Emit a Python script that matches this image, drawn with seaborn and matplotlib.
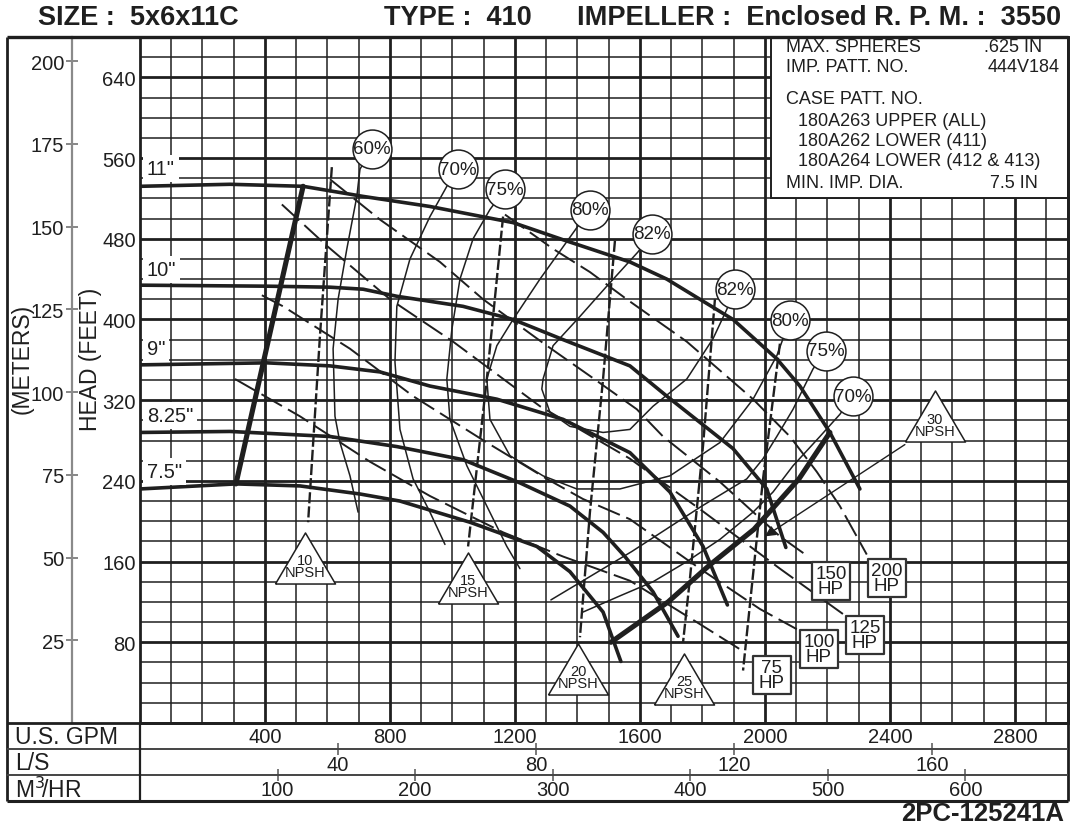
import numpy as np
import matplotlib
matplotlib.use('Agg')
import matplotlib.pyplot as plt
import matplotlib.transforms as mtransforms
from matplotlib.lines import Line2D
from matplotlib.patches import Rectangle
import seaborn as sns

# ---- values: flow in US GPM, head in feet ----
dia_labels = ['11"', '10"', '9"', '8.25"', '7.5"']
dia_label_head = [550, 450, 371, 305, 249]

h11_q = [0, 288, 522, 714, 928, 1194, 1354, 1568, 1686, 1898, 2038, 2112, 2208, 2304]
h11_h = [532, 534, 532, 522, 512, 496, 479, 457, 440, 400, 361, 334, 288, 232]
h10_q = [0, 406, 608, 714, 822, 1034, 1194, 1354, 1568, 1686, 1898, 2006, 2067]
h10_h = [434, 433, 432, 430, 423, 413, 400, 380, 354, 324, 272, 232, 174]
h9_q = [0, 406, 608, 768, 928, 1142, 1354, 1568, 1696, 1802, 1880]
h9_h = [355, 357, 354, 348, 334, 321, 301, 268, 229, 175, 117]
h825_q = [0, 288, 608, 822, 1034, 1216, 1376, 1482, 1552, 1642, 1722]
h825_h = [288, 289, 284, 274, 261, 238, 215, 189, 165, 130, 86]
h75_q = [0, 307, 512, 704, 832, 1056, 1270, 1376, 1482, 1539]
h75_h = [232, 237, 235, 227, 220, 199, 175, 150, 110, 61]

min_flow_q = [307, 522]
min_flow_h = [237, 532]
max_flow_q = [1507, 1690, 1821, 1965, 2109, 2208]
max_flow_h = [80, 120, 156, 192, 242, 288]

# efficiency lines, each starting at its label circle
e60_q = [742, 704, 694, 662, 634, 618, 624, 640, 672, 698]
e60_h = [569, 549, 522, 470, 420, 371, 304, 278, 245, 209]
e70_q = [1018, 982, 928, 864, 822, 816, 832, 874, 928, 976]
e70_h = [549, 532, 502, 460, 413, 358, 291, 242, 209, 177]
e75_q = [1168, 1120, 1066, 1024, 998, 982, 992, 1046, 1110, 1174, 1216]
e75_h = [529, 509, 480, 440, 390, 341, 301, 255, 215, 175, 153]
e80_q = [1440, 1398, 1280, 1194, 1142, 1110, 1120, 1184, 1290, 1398, 1536, 1696, 1856, 1962, 2038, 2058, 2080]
e80_h = [509, 491, 440, 400, 374, 341, 301, 265, 245, 232, 232, 245, 278, 321, 364, 381, 399]
e82_q = [1638, 1594, 1494, 1408, 1322, 1290, 1286, 1312, 1376, 1482, 1568, 1642, 1750, 1834, 1878, 1904]
e82_h = [485, 467, 433, 403, 374, 341, 331, 308, 294, 288, 291, 314, 341, 381, 410, 430]
e75r_q = [2195, 2154, 2090, 2038, 1994, 1942, 1798, 1574, 1315]
e75r_h = [369, 351, 311, 284, 262, 242, 215, 170, 122]
e70r_q = [2282, 2240, 2176, 2090, 2026, 1962, 1856, 1750, 1642, 1536, 1418]
e70r_h = [324, 306, 284, 255, 229, 209, 182, 160, 140, 126, 110]

eff_txt = ['60%', '70%', '75%', '80%', '82%', '82%', '80%', '75%', '70%']
eff_q = [742, 1018, 1168, 1440, 1638, 1904, 2080, 2195, 2282]
eff_h = [569, 549, 529, 509, 485, 430, 399, 369, 324]

# NPSH (ft) lines
n10_q = [614, 576, 538]
n10_h = [551, 384, 199]
n15_q = [1162, 1110, 1050]
n15_h = [502, 341, 175]
n20_q = [1520, 1482, 1440, 1408]
n20_h = [478, 341, 209, 85]
n25_q = [1840, 1802, 1760, 1738]
n25_h = [420, 275, 143, 80]
n30_q = [2048, 1994, 1930]
n30_h = [376, 242, 52]
npsh_txt = ['10', '15', '20', '25', '30']
npsh_q = [528, 1050, 1402, 1741, 2544]
npsh_h = [164, 144, 54, 44, 304]
npsh30_lead_q = [2448, 2000]
npsh30_lead_h = [276, 185]

# horsepower lines
hp200_q = [1168, 1322, 1440, 1558, 1750, 1962, 2080, 2166, 2240, 2326]
hp200_h = [504, 470, 447, 420, 378, 321, 284, 249, 215, 167]
hp150_q = [608, 768, 960, 1098, 1302, 1440, 1590, 1674, 1856, 2048, 2134]
hp150_h = [539, 499, 457, 420, 374, 344, 311, 284, 239, 185, 166]
hp125_q = [454, 598, 800, 1002, 1280, 1568, 1792, 2048, 2250]
hp125_h = [514, 473, 420, 378, 314, 262, 212, 153, 108]
hp100_q = [390, 458, 672, 874, 992, 1110, 1302, 1418, 1568, 1792, 1984, 2102]
hp100_h = [424, 413, 371, 324, 301, 278, 242, 222, 202, 153, 113, 93]
hp75_q = [304, 512, 736, 928, 1162, 1354, 1568, 1792, 1936]
hp75_h = [341, 304, 259, 225, 189, 165, 141, 98, 70]
hp_txt = ['75', '100', '125', '150', '200']
hp_q = [2022, 2173, 2320, 2211, 2390]
hp_h = [48, 73, 87, 141, 144]

feet_ticks = [80, 160, 240, 320, 400, 480, 560, 640]
meter_ticks = [25, 50, 75, 100, 125, 150, 175, 200]
gpm_ticks = [400, 800, 1200, 1600, 2000, 2400, 2800]
ls_ticks = [40, 80, 120, 160]
m3h_ticks = [100, 200, 300, 400, 500, 600]

FT_PER_M = 3.28084
GPM_PER_LS = 15.8503
GPM_PER_M3H = 4.40287
QMAX, HMAX = 2970, 680

INK = '#1f1f1f'
W, H = 1072, 828

sns.set_theme(style='white')
plt.rcParams['font.family'] = ['Liberation Sans', 'DejaVu Sans']
plt.rcParams['lines.scale_dashes'] = False
plt.rcParams['text.color'] = INK


def fx(px):
    return px / W


def fy(py):
    return 1 - py / H


fig = plt.figure(figsize=(W / 100, H / 100), dpi=100)
ax = fig.add_axes([fx(140), fy(724), fx(1068) - fx(140), fy(38) - fy(724)])
ax.set_xlim(0, QMAX)
ax.set_ylim(0, HMAX)

# grid
ax.set_xticks(gpm_ticks)
ax.set_xticks(np.arange(100, QMAX, 100), minor=True)
ax.set_yticks(feet_ticks)
ax.set_yticks(np.arange(20, HMAX, 20), minor=True)
ax.set_yticklabels([str(t) for t in feet_ticks])
ax.tick_params(axis='x', which='both', length=0, labelbottom=False)
ax.tick_params(axis='y', which='both', length=0, labelsize=14.5, pad=3, labelcolor=INK)
ax.grid(True, which='major', color=INK, lw=2.0)
ax.grid(True, which='minor', color=INK, lw=1.1)
ax.set_axisbelow(True)
for s in ax.spines.values():
    s.set_color(INK)
    s.set_linewidth(2)

# spec box (hides grid in the top right corner)
ax.add_patch(Rectangle((2020, 520), QMAX - 2020, HMAX - 520, fc='white', ec=INK, lw=1.4, zorder=1.5))

# meters axis
sec = ax.secondary_yaxis((72 - 140) / 928, functions=(lambda f: f / FT_PER_M, lambda m: m * FT_PER_M))
sec.set_yticks(meter_ticks)
sec.tick_params(direction='inout', length=9, width=1.1, color='#666666', labelsize=14.5, pad=1, labelcolor=INK)
for s in sec.spines.values():
    s.set_color('#8a8a8a')
    s.set_linewidth(1.6)


def curve(q, h, **kw):
    sns.lineplot(x=q, y=h, sort=False, estimator=None, ax=ax, color=INK, **kw)


# head curves
for q, h in [(h11_q, h11_h), (h10_q, h10_h), (h9_q, h9_h), (h825_q, h825_h), (h75_q, h75_h)]:
    curve(q, h, linewidth=2.6, zorder=4)
curve(min_flow_q, min_flow_h, linewidth=3.7, zorder=4)
curve(max_flow_q, max_flow_h, linewidth=3.7, zorder=4)

# efficiency
for q, h in [(e60_q, e60_h), (e70_q, e70_h), (e75_q, e75_h), (e80_q, e80_h),
             (e82_q, e82_h), (e75r_q, e75r_h), (e70r_q, e70r_h)]:
    curve(q, h, linewidth=1.1, zorder=3)

# NPSH
for q, h in [(n10_q, n10_h), (n15_q, n15_h), (n20_q, n20_h), (n25_q, n25_h), (n30_q, n30_h)]:
    curve(q, h, linewidth=1.7, linestyle=(0, (8, 2.2)), zorder=3)

# HP
for q, h in [(hp200_q, hp200_h), (hp150_q, hp150_h), (hp125_q, hp125_h), (hp100_q, hp100_h), (hp75_q, hp75_h)]:
    curve(q, h, linewidth=1.4, linestyle=(0, (17, 5)), zorder=3)

ax.annotate('', xy=(npsh30_lead_q[1], npsh30_lead_h[1]), xytext=(npsh30_lead_q[0], npsh30_lead_h[0]),
            arrowprops=dict(arrowstyle='-|>', color=INK, lw=1.0, mutation_scale=16, shrinkA=0, shrinkB=0),
            zorder=3)

# labels on markers
sns.scatterplot(x=eff_q, y=eff_h, s=784, marker='o', color='white', edgecolor=INK, linewidth=1.1,
                zorder=6, ax=ax)
for q, h, t in zip(eff_q, eff_h, eff_txt):
    ax.text(q, h, t, ha='center', va='center', fontsize=13.5, zorder=7)

tri = [(-30, -25.5), (30, -25.5), (0, 25.5), (-30, -25.5)]
sns.scatterplot(x=npsh_q, y=npsh_h, s=1870, marker=tri, color='white', edgecolor=INK, linewidth=1.1,
                zorder=6, ax=ax)
for q, h, t in zip(npsh_q, npsh_h, npsh_txt):
    ax.annotate(t + '\nNPSH', (q, h), xytext=(0, -6), textcoords='offset points', ha='center',
                va='center', fontsize=10.5, linespacing=0.8, zorder=7)

sns.scatterplot(x=hp_q, y=hp_h, s=784, marker='s', color='white', edgecolor='#333333', linewidth=1.6,
                zorder=6, ax=ax)
for q, h, t in zip(hp_q, hp_h, hp_txt):
    ax.text(q, h, t + '\nHP', ha='center', va='center', fontsize=13.5, linespacing=0.85, zorder=7)

for t, h in zip(dia_labels, dia_label_head):
    ax.text(22, h, t, ha='left', va='center', fontsize=14.5, zorder=5,
            bbox=dict(boxstyle='square,pad=0.2', fc='white', ec='none'))

ax.set_xlabel('')
ax.set_ylabel('')

# bottom scale rows
rows = [(724, 750, gpm_ticks, 1.0, 738, False),
        (750, 776, ls_ticks, GPM_PER_LS, 766, True),
        (776, 802, m3h_ticks, GPM_PER_M3H, 791, True)]
for top, bot, ticks, f, ylab, marks in rows:
    r = fig.add_axes([fx(140), fy(bot), fx(1068) - fx(140), fy(top) - fy(bot)])
    r.set_xlim(0, QMAX / f)
    r.set_ylim(0, 1)
    r.patch.set_alpha(0)
    for s in r.spines.values():
        s.set_visible(False)
    r.set_yticks([])
    if marks:
        r.set_xticks(ticks)
        r.tick_params(axis='x', top=True, bottom=False, labelbottom=False, direction='inout',
                      length=9, width=1.1, color='#555555')
    else:
        r.set_xticks([])
    blend = mtransforms.blended_transform_factory(r.transData, fig.transFigure)
    for t in ticks:
        r.text(t, fy(ylab), str(t), transform=blend, ha='center', va='center', fontsize=14.5)


# frame lines
def fline(x0, y0, x1, y1, lw=1.6, color=INK):
    fig.add_artist(Line2D([fx(x0), fx(x1)], [fy(y0), fy(y1)], transform=fig.transFigure, lw=lw, color=color,
                          solid_capstyle='butt'))


fline(7, 38, 1068, 38, lw=2.4)
fline(7, 38, 7, 802, lw=2.0)
fline(1068, 38, 1068, 802, lw=2.0)
fline(7, 802, 1068, 802, lw=2.2)
fline(7, 724, 1068, 724, lw=2.0)
fline(7, 750, 1068, 750, lw=1.4, color='#444444')
fline(7, 776, 1068, 776, lw=1.4, color='#444444')
fline(140, 724, 140, 802, lw=1.6)

fig.text(fx(15), fy(738), 'U.S. GPM', ha='left', va='center', fontsize=16.5)
fig.text(fx(15), fy(764), 'L/S', ha='left', va='center', fontsize=16.5)
fig.text(fx(15), fy(790), 'M$^3\\!$/HR', ha='left', va='center', fontsize=16.5)

fig.text(fx(22), fy(359), '(METERS)', rotation=90, ha='center', va='center', fontsize=16.5)
fig.text(fx(91), fy(359), 'HEAD (FEET)', rotation=90, ha='center', va='center', fontsize=16.5)

# header / footer
fig.text(fx(38), fy(18), 'SIZE :  5x6x11C', ha='left', va='center', fontsize=19.5, fontweight='bold')
fig.text(fx(384), fy(18), 'TYPE :  410', ha='left', va='center', fontsize=19.5, fontweight='bold')
fig.text(fx(1061), fy(18), 'IMPELLER :  Enclosed R. P. M. :  3550', ha='right', va='center',
         fontsize=19.5, fontweight='bold')
fig.text(fx(1064), fy(814), '2PC-125241A', ha='right', va='center', fontsize=18.5, fontweight='bold')

# spec box text
spec_left = [('MAX. SPHERES', 786, 47), ('IMP. PATT. NO.', 786, 68), ('CASE PATT. NO.', 786, 100),
             ('180A263 UPPER (ALL)', 798, 121), ('180A262 LOWER (411)', 798, 142),
             ('180A264 LOWER (412 & 413)', 798, 162), ('MIN. IMP. DIA.', 786, 183)]
spec_right = [('.625 IN', 984, 47), ('444V184', 988, 68), ('7.5 IN', 990, 183)]
for t, x, y in spec_left + spec_right:
    fig.text(fx(x), fy(y), t, ha='left', va='center', fontsize=13)

fig.savefig('out.png', dpi=100)
